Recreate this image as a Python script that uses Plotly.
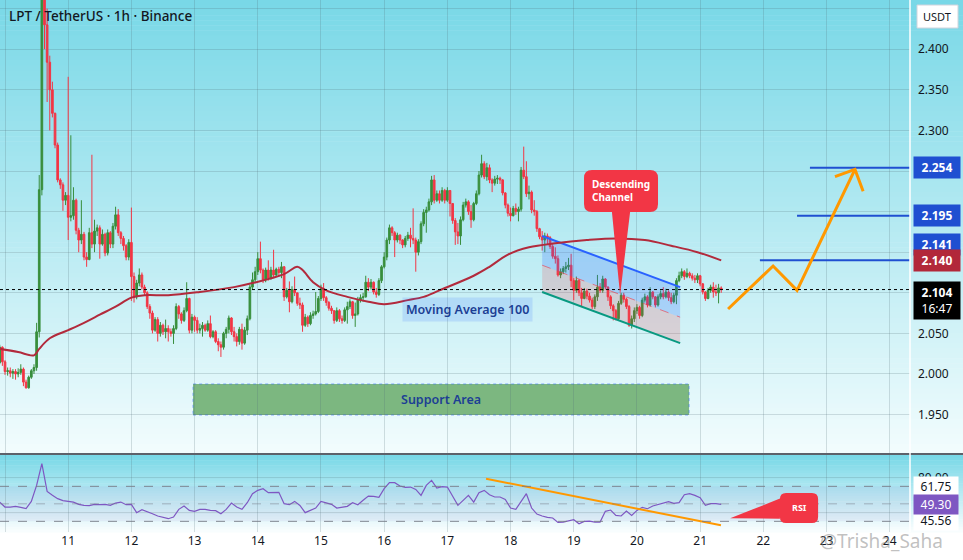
import plotly.graph_objects as go

W, H = 963, 560
PLOT_W, PLOT_H = 910, 532

# hourly candles, hour 0 = day 10 00:00
hours = list(range(-2, 273))
first_open = 2.014
closes = [
    2.033, 2.015, 2.003, 2.004, 2.001, 2.003, 2.000, 2.002, 2.006, 1.990,
    1.983, 1.996, 2.004, 2.008, 2.052, 2.227, 2.480, 2.430, 2.384, 2.350,
    2.321, 2.282, 2.239, 2.233, 2.214, 2.220, 2.193, 2.195, 2.214, 2.177,
    2.165, 2.172, 2.144, 2.141, 2.174, 2.160, 2.176, 2.180, 2.160, 2.172,
    2.149, 2.174, 2.160, 2.182, 2.196, 2.174, 2.167, 2.158, 2.144, 2.162,
    2.120, 2.095, 2.112, 2.122, 2.107, 2.100, 2.083, 2.075, 2.054, 2.067,
    2.050, 2.060, 2.052, 2.056, 2.052, 2.050, 2.056, 2.083, 2.074, 2.066,
    2.078, 2.093, 2.054, 2.070, 2.066, 2.054, 2.056, 2.060, 2.054, 2.062,
    2.046, 2.052, 2.040, 2.036, 2.033, 2.050, 2.055, 2.069, 2.052, 2.046,
    2.040, 2.055, 2.038, 2.054, 2.068, 2.107, 2.116, 2.126, 2.142, 2.128,
    2.116, 2.128, 2.118, 2.128, 2.122, 2.129, 2.125, 2.132, 2.095, 2.103,
    2.089, 2.104, 2.100, 2.087, 2.085, 2.060, 2.070, 2.062, 2.072, 2.074,
    2.077, 2.093, 2.105, 2.094, 2.088, 2.081, 2.078, 2.066, 2.078, 2.068,
    2.066, 2.079, 2.083, 2.089, 2.072, 2.074, 2.091, 2.094, 2.095, 2.113,
    2.107, 2.113, 2.101, 2.098, 2.115, 2.132, 2.144, 2.165, 2.180, 2.174,
    2.165, 2.171, 2.165, 2.159, 2.167, 2.171, 2.167, 2.165, 2.150, 2.163,
    2.185, 2.199, 2.202, 2.212, 2.239, 2.214, 2.222, 2.214, 2.226, 2.214,
    2.226, 2.210, 2.189, 2.175, 2.170, 2.190, 2.208, 2.212, 2.200, 2.190,
    2.210, 2.222, 2.245, 2.259, 2.243, 2.254, 2.239, 2.235, 2.240, 2.241,
    2.239, 2.223, 2.208, 2.198, 2.195, 2.204, 2.200, 2.203, 2.251, 2.243,
    2.222, 2.224, 2.202, 2.200, 2.179, 2.169, 2.165, 2.170, 2.168, 2.157,
    2.145, 2.142, 2.122, 2.126, 2.130, 2.132, 2.134, 2.115, 2.103, 2.115,
    2.100, 2.093, 2.102, 2.096, 2.091, 2.083, 2.095, 2.107, 2.103, 2.117,
    2.107, 2.095, 2.084, 2.078, 2.068, 2.087, 2.097, 2.092, 2.083, 2.060,
    2.068, 2.078, 2.082, 2.072, 2.091, 2.095, 2.085, 2.101, 2.095, 2.085,
    2.095, 2.099, 2.095, 2.101, 2.094, 2.089, 2.097, 2.115, 2.121, 2.126,
    2.120, 2.124, 2.121, 2.118, 2.116, 2.121, 2.111, 2.101, 2.093, 2.103,
    2.107, 2.101, 2.100, 2.106, 2.104,
]
highs = [
    2.036, 2.034, 2.017, 2.008, 2.008, 2.006, 2.006, 2.007, 2.012, 2.008,
    1.993, 1.998, 2.006, 2.012, 2.063, 2.245, 2.560, 2.520, 2.450, 2.392,
    2.360, 2.322, 2.285, 2.241, 2.236, 2.224, 2.366, 2.294, 2.230, 2.216,
    2.180, 2.214, 2.175, 2.150, 2.180, 2.270, 2.190, 2.184, 2.183, 2.178,
    2.174, 2.178, 2.176, 2.186, 2.206, 2.203, 2.176, 2.170, 2.160, 2.166,
    2.205, 2.125, 2.116, 2.130, 2.125, 2.110, 2.102, 2.086, 2.078, 2.070,
    2.070, 2.064, 2.062, 2.067, 2.060, 2.056, 2.060, 2.087, 2.085, 2.076,
    2.082, 2.113, 2.094, 2.074, 2.072, 2.070, 2.062, 2.064, 2.062, 2.066,
    2.072, 2.054, 2.054, 2.044, 2.040, 2.052, 2.058, 2.072, 2.070, 2.058,
    2.050, 2.058, 2.062, 2.058, 2.072, 2.110, 2.125, 2.132, 2.150, 2.163,
    2.130, 2.131, 2.140, 2.132, 2.153, 2.131, 2.132, 2.138, 2.133, 2.106,
    2.114, 2.108, 2.120, 2.100, 2.094, 2.088, 2.074, 2.072, 2.076, 2.078,
    2.101, 2.096, 2.110, 2.112, 2.096, 2.090, 2.084, 2.078, 2.082, 2.080,
    2.072, 2.082, 2.089, 2.092, 2.090, 2.088, 2.095, 2.098, 2.100, 2.121,
    2.118, 2.117, 2.114, 2.106, 2.118, 2.134, 2.150, 2.168, 2.184, 2.182,
    2.176, 2.174, 2.172, 2.166, 2.170, 2.175, 2.180, 2.204, 2.168, 2.166,
    2.188, 2.203, 2.206, 2.216, 2.244, 2.245, 2.226, 2.226, 2.230, 2.228,
    2.230, 2.226, 2.210, 2.192, 2.186, 2.194, 2.212, 2.216, 2.214, 2.208,
    2.212, 2.226, 2.250, 2.270, 2.262, 2.260, 2.258, 2.241, 2.244, 2.245,
    2.243, 2.240, 2.224, 2.210, 2.205, 2.207, 2.210, 2.206, 2.255, 2.280,
    2.262, 2.232, 2.226, 2.214, 2.202, 2.180, 2.176, 2.174, 2.173, 2.170,
    2.160, 2.156, 2.146, 2.130, 2.133, 2.138, 2.143, 2.148, 2.118, 2.120,
    2.117, 2.106, 2.106, 2.105, 2.100, 2.094, 2.098, 2.122, 2.112, 2.121,
    2.118, 2.108, 2.097, 2.086, 2.080, 2.090, 2.100, 2.100, 2.094, 2.085,
    2.072, 2.082, 2.086, 2.084, 2.094, 2.099, 2.097, 2.107, 2.102, 2.096,
    2.098, 2.103, 2.107, 2.105, 2.103, 2.100, 2.100, 2.118, 2.126, 2.130,
    2.128, 2.130, 2.126, 2.124, 2.122, 2.124, 2.122, 2.112, 2.102, 2.106,
    2.110, 2.113, 2.110, 2.111, 2.108,
]
lows = [
    2.012, 2.010, 1.999, 1.998, 1.996, 1.994, 1.993, 1.996, 1.999, 1.985,
    1.982, 1.982, 1.994, 2.000, 2.004, 2.045, 2.220, 2.400, 2.335, 2.300,
    2.316, 2.278, 2.236, 2.228, 2.201, 2.208, 2.165, 2.188, 2.190, 2.172,
    2.150, 2.160, 2.140, 2.132, 2.140, 2.155, 2.150, 2.170, 2.142, 2.158,
    2.145, 2.146, 2.155, 2.155, 2.178, 2.170, 2.160, 2.152, 2.140, 2.140,
    2.090, 2.088, 2.092, 2.108, 2.104, 2.096, 2.080, 2.068, 2.050, 2.052,
    2.040, 2.046, 2.048, 2.044, 2.040, 2.046, 2.037, 2.054, 2.068, 2.062,
    2.064, 2.076, 2.050, 2.050, 2.052, 2.050, 2.050, 2.046, 2.052, 2.052,
    2.044, 2.044, 2.038, 2.028, 2.021, 2.030, 2.044, 2.050, 2.048, 2.040,
    2.034, 2.036, 2.030, 2.036, 2.048, 2.066, 2.104, 2.112, 2.122, 2.124,
    2.112, 2.113, 2.115, 2.116, 2.118, 2.120, 2.120, 2.118, 2.090, 2.093,
    2.076, 2.087, 2.096, 2.084, 2.080, 2.052, 2.058, 2.058, 2.060, 2.068,
    2.072, 2.075, 2.090, 2.090, 2.084, 2.078, 2.074, 2.062, 2.064, 2.064,
    2.062, 2.064, 2.062, 2.080, 2.068, 2.058, 2.072, 2.088, 2.089, 2.094,
    2.102, 2.104, 2.098, 2.094, 2.096, 2.112, 2.130, 2.140, 2.160, 2.170,
    2.144, 2.162, 2.160, 2.155, 2.156, 2.164, 2.156, 2.160, 2.126, 2.146,
    2.160, 2.182, 2.174, 2.200, 2.208, 2.210, 2.212, 2.210, 2.212, 2.210,
    2.212, 2.194, 2.185, 2.159, 2.160, 2.159, 2.188, 2.205, 2.196, 2.180,
    2.188, 2.208, 2.220, 2.242, 2.240, 2.238, 2.235, 2.224, 2.232, 2.234,
    2.234, 2.220, 2.204, 2.194, 2.188, 2.194, 2.196, 2.188, 2.200, 2.240,
    2.218, 2.215, 2.198, 2.195, 2.175, 2.166, 2.152, 2.150, 2.160, 2.154,
    2.142, 2.136, 2.120, 2.118, 2.123, 2.125, 2.128, 2.107, 2.091, 2.100,
    2.096, 2.083, 2.092, 2.092, 2.088, 2.080, 2.080, 2.090, 2.100, 2.100,
    2.104, 2.090, 2.080, 2.066, 2.066, 2.066, 2.085, 2.088, 2.080, 2.058,
    2.056, 2.064, 2.074, 2.068, 2.070, 2.088, 2.082, 2.083, 2.092, 2.082,
    2.083, 2.092, 2.092, 2.093, 2.090, 2.086, 2.087, 2.086, 2.113, 2.118,
    2.116, 2.118, 2.118, 2.115, 2.112, 2.112, 2.108, 2.098, 2.090, 2.092,
    2.100, 2.094, 2.096, 2.087, 2.100,
]
opens = [first_open] + closes[:-1]

# moving average 100, read at points along the curve
ma_hours = [-2, 5, 11, 13, 17, 24, 30, 36, 42, 48, 53, 62, 74, 87, 94, 106,
            111, 113, 117, 122, 130, 138, 144, 153, 159, 165, 178, 184, 191,
            199, 209, 221, 232, 243, 253, 263, 272]
ma_values = [2.031, 2.027, 2.023, 2.031, 2.044, 2.054, 2.063, 2.073, 2.083,
             2.094, 2.097, 2.097, 2.101, 2.107, 2.112, 2.123, 2.132, 2.128,
             2.113, 2.103, 2.095, 2.089, 2.086, 2.091, 2.095, 2.103, 2.121,
             2.132, 2.147, 2.156, 2.161, 2.165, 2.167, 2.165, 2.158, 2.150,
             2.140]

# RSI every 2 hours
rsi_hours = list(range(-2, 273, 2))
rsi_values = [
    52, 46.3, 46.3, 47, 46, 44.5, 52.8, 71, 96, 64.2,
    59.7, 55.9, 53.6, 52.8, 52, 49.4, 48.2, 47.9, 49.4, 49,
    49.4, 48.2, 50.9, 52, 49, 49.4, 39.9, 43.3, 41.4, 38.7,
    36.1, 34.5, 33, 34.9, 43.7, 47.5, 42.5, 41.4, 43.7, 43.7,
    42.5, 42.2, 38.7, 43.7, 50.9, 46.3, 43.7, 51.3, 61.6, 65.4,
    67.3, 62.7, 62.7, 63.1, 50.2, 49, 52.8, 48.2, 39.9, 42.2,
    45.2, 52.8, 51.3, 49.4, 45.2, 46.3, 47.1, 51.3, 49, 54,
    58.9, 58.5, 57.4, 67.3, 74.2, 74.2, 70.3, 68.8, 69.2, 66.5,
    59.7, 71.1, 76.8, 68.1, 69.6, 69.2, 58.9, 48.2, 54, 59.7,
    52, 62.7, 65.4, 60.4, 57.8, 57.8, 55.1, 45.2, 43.7, 52,
    61.6, 45.2, 38.3, 36.1, 34.5, 33.8, 28.8, 29.2, 30.7, 31.9,
    27.3, 30, 30.3, 29.2, 29.2, 41.4, 42.9, 36.8, 36.1, 41.8,
    36.8, 42.5, 46, 44.4, 47.5, 49.4, 50.9, 52.4, 50.5, 51.3,
    60.4, 61.6, 59.7, 57, 48.2, 50.2, 50.2, 49.3,
]

day_ticks = list(range(0, 337, 24))
day_labels = [str(d) for d in range(10, 25)]
price_ticks = [1.95, 2.00, 2.05, 2.10, 2.15, 2.20, 2.25, 2.30, 2.35, 2.40, 2.45]

# drawings
channel_hours = [204, 256.4]
channel_upper = [2.170, 2.107]
channel_mid = [2.134, 2.070]
channel_lower = [2.101, 2.038]
support_hours = [71.4, 259.8]
support_prices = [1.9495, 1.9877]
target_levels = [2.254, 2.195, 2.140]
target_starts = [305.7, 300.8, 286.7]
path_hours = [274.6, 291.7, 300.8, 322.8]
path_prices = [2.080, 2.133, 2.103, 2.252]
arrow_hours = [315.2, 322.8, 325.9]
arrow_prices = [2.243, 2.252, 2.225]
rsi_trend_hours = [182.7, 271.9]
rsi_trend_values = [78.7, 25.4]
last_price = 2.104
last_rsi = 49.30

X_RANGE = [-1.9, 343.7]
Y_RANGE = [1.9027, 2.4606]
RSI_RANGE = [17.8, 105.8]
GREEN = "#388e3c"
RED = "#f23645"
BLUE = "#1f4fd1"
ORANGE = "#ff9800"
FONT = "Noto Sans"
TXT = "#131722"
NAVY = "#1c3f94"


def gradient(top_px, bot_px, c_top, c_bot, n):
    out = []
    step = (bot_px - top_px) / n
    for i in range(n):
        t = i / (n - 1)
        col = tuple(round(a + (b - a) * t) for a, b in zip(c_top, c_bot))
        y0 = top_px + i * step
        out.append(dict(type="rect", xref="paper", yref="paper", layer="below",
                        x0=0, x1=W / PLOT_W,
                        y0=1 - (y0 + step + 0.6) / PLOT_H, y1=1 - y0 / PLOT_H,
                        fillcolor="rgb(%d,%d,%d)" % col, line_width=0))
    return out


def balloon(l, r, t, b, rx, ry, pointer):
    s = f"M {l+rx},{t} L {r-rx},{t} Q {r},{t} {r},{t-ry} L {r},{b+ry} Q {r},{b} {r-rx},{b} "
    if pointer[0] == "bottom":
        _, b1, b2, tx, ty = pointer
        s += f"L {b2},{b} L {tx},{ty} L {b1},{b} L {l+rx},{b} Q {l},{b} {l},{b+ry} L {l},{t-ry} "
    else:
        _, y1, y2, tx, ty = pointer
        s += f"L {l+rx},{b} Q {l},{b} {l},{b+ry} L {l},{y2} L {tx},{ty} L {l},{y1} L {l},{t-ry} "
    s += f"Q {l},{t} {l+rx},{t} Z"
    return s


fig = go.Figure()

# channel fills
fig.add_trace(go.Scatter(
    x=channel_hours + channel_hours[::-1], y=channel_upper + channel_mid[::-1],
    fill="toself", fillcolor="rgba(41,98,255,0.22)", line_width=0, mode="lines"))
fig.add_trace(go.Scatter(
    x=channel_hours + channel_hours[::-1], y=channel_mid + channel_lower[::-1],
    fill="toself", fillcolor="rgba(242,54,69,0.18)", line_width=0, mode="lines"))
fig.add_trace(go.Scatter(x=channel_hours, y=channel_mid, mode="lines",
                         line=dict(color="rgba(242,54,69,0.6)", width=1, dash="dash")))
fig.add_trace(go.Scatter(x=channel_hours, y=channel_upper, mode="lines",
                         line=dict(color="#2962ff", width=2)))
fig.add_trace(go.Scatter(x=channel_hours, y=channel_lower, mode="lines",
                         line=dict(color="#089981", width=2)))

fig.add_trace(go.Candlestick(
    x=hours, open=opens, high=highs, low=lows, close=closes,
    increasing=dict(line=dict(color=GREEN, width=1), fillcolor=GREEN),
    decreasing=dict(line=dict(color=RED, width=1), fillcolor=RED),
    whiskerwidth=0))

fig.add_trace(go.Scatter(x=ma_hours, y=ma_values, mode="lines", line_shape="spline",
                         line=dict(color="#b22a3c", width=2)))

# target levels
for lvl, start in zip(target_levels, target_starts):
    fig.add_trace(go.Scatter(x=[start, X_RANGE[1] + 2], y=[lvl, lvl], mode="lines",
                             line=dict(color=BLUE, width=2)))

fig.add_trace(go.Scatter(x=path_hours, y=path_prices, mode="lines",
                         line=dict(color=ORANGE, width=3)))
fig.add_trace(go.Scatter(x=arrow_hours, y=arrow_prices, mode="lines",
                         line=dict(color=ORANGE, width=3)))

# RSI pane
fig.add_trace(go.Scatter(x=rsi_hours, y=rsi_values, mode="lines", xaxis="x2", yaxis="y2",
                         line=dict(color="#7e57c2", width=1.2)))
fig.add_trace(go.Scatter(x=rsi_trend_hours, y=rsi_trend_values, mode="lines",
                         xaxis="x2", yaxis="y2", line=dict(color=ORANGE, width=2)))

shapes = []
shapes += gradient(0, 454, (121, 216, 231), (242, 252, 253), 90)
shapes += gradient(455, 532, (121, 216, 231), (248, 253, 254), 30)
shapes.append(dict(type="rect", xref="x", yref="y", layer="below",
                   x0=support_hours[0], x1=support_hours[1],
                   y0=support_prices[0], y1=support_prices[1],
                   fillcolor="rgb(124,183,128)",
                   line=dict(color="rgba(41,98,255,0.5)", width=1, dash="dot")))
shapes.append(dict(type="rect", xref="paper", yref="y2", layer="below",
                   x0=0, x1=1, y0=30, y1=70, fillcolor="rgba(126,87,194,0.08)", line_width=0))
for v in (80, 40):
    shapes.append(dict(type="line", xref="paper", yref="y2", layer="below", x0=0, x1=1,
                       y0=v, y1=v, line=dict(color="rgba(80,110,120,0.22)", width=1)))
for v, c in ((70, "rgba(120,123,134,0.9)"), (50, "rgba(120,123,134,0.5)"),
             (30, "rgba(120,123,134,0.9)")):
    shapes.append(dict(type="line", xref="paper", yref="y2", x0=0, x1=1, y0=v, y1=v,
                       line=dict(color=c, width=1, dash="dash")))
shapes.append(dict(type="line", xref="paper", yref="y", x0=0, x1=1,
                   y0=last_price, y1=last_price, line=dict(color="black", width=1, dash="dot")))
# pane separator and axis edge
shapes.append(dict(type="line", xref="paper", yref="paper", x0=0, x1=W / PLOT_W,
                   y0=1 - 454 / PLOT_H, y1=1 - 454 / PLOT_H, line=dict(color="#2a2e39", width=1.5)))
shapes.append(dict(type="line", xref="paper", yref="paper", x0=1, x1=1, y0=0, y1=1,
                   line=dict(color="white", width=1.5)))
# callouts
shapes.append(dict(type="path", xref="x", yref="y", fillcolor=RED, line_width=0,
                   path=balloon(219.9, 248.0, 2.2512, 2.1995, 3.0, 0.0099,
                                ("bottom", 230.5, 237.4, 233.6, 2.0973))))
shapes.append(dict(type="path", xref="x2", yref="y2", fillcolor=RED, line_width=0,
                   path=balloon(294.3, 308.8, 62.3, 28.1, 2.3, 6.9,
                                ("left", 56, 33, 275.4, 33.5))))
# USDT box
shapes.append(dict(type="rect", xref="paper", yref="paper", x0=917 / PLOT_W, x1=958 / PLOT_W,
                   y0=1 - 28 / PLOT_H, y1=1 - 5 / PLOT_H, fillcolor="white",
                   line=dict(color="#d1d4dc", width=1)))

ann = []
ann.append(dict(xref="paper", yref="paper", x=7 / PLOT_W, y=1 - 16 / PLOT_H,
                xanchor="left", yanchor="middle", showarrow=False,
                text="LPT / TetherUS · 1h · Binance",
                font=dict(size=13.5, color=TXT, weight=500)))
ann.append(dict(xref="x", yref="y", x=233.9, y=2.2254, showarrow=False,
                text="<b>Descending<br>Channel</b>", align="left",
                font=dict(size=10, color="white")))
ann.append(dict(xref="x2", yref="y2", x=301.6, y=45.5, showarrow=False,
                text="<b>RSI</b>", font=dict(size=9, color="white")))
ann.append(dict(xref="x", yref="y", x=175.8, y=2.079, showarrow=False,
                text="Moving Average 100", bgcolor="rgba(41,98,255,0.15)", borderpad=3,
                font=dict(size=12.5, color=NAVY, weight=600)))
ann.append(dict(xref="x", yref="y", x=sum(support_hours) / 2, y=sum(support_prices) / 2,
                showarrow=False, text="Support Area",
                font=dict(size=12.5, color=NAVY, weight=600)))

# right-axis labels
ann.append(dict(xref="paper", yref="paper", x=937.5 / PLOT_W, y=1 - 16.5 / PLOT_H,
                xanchor="center", yanchor="middle",
                showarrow=False, text="USDT", font=dict(size=11, color=TXT)))
for val, y, col in ((2.254, 2.254, BLUE), (2.195, 2.195, BLUE), (2.141, 2.1598, BLUE),
                    (2.140, 2.140, "#b2283a")):
    ann.append(dict(xref="paper", yref="y", x=1.0035, y=y, xanchor="left",
                    yanchor="middle", showarrow=False, text="<b>%.3f</b>" % val,
                    bgcolor=col, width=42, borderpad=2, font=dict(size=12, color="white")))
ann.append(dict(xref="paper", yref="y", x=1.0035, y=last_price, xanchor="left",
                yanchor="top", yshift=9, showarrow=False,
                text="<b>%.3f</b><br>16:47" % last_price, bgcolor="black", width=42,
                borderpad=2, font=dict(size=12, color="white")))
for val, y, bg, fg in (("61.75", 70, "white", TXT), ("45.56", 31, "white", TXT),
                       ("%.2f" % last_rsi, last_rsi, "#7e57c2", "white")):
    ann.append(dict(xref="paper", yref="y2", x=1.0035, y=y, xanchor="left",
                    yanchor="middle", showarrow=False, text=val, bgcolor=bg, width=42,
                    borderpad=1, font=dict(size=12, color=fg)))
ann.append(dict(xref="paper", yref="paper", x=945 / PLOT_W, y=1 - 541 / PLOT_H,
                xanchor="right", yanchor="middle", showarrow=False, text="@Trisha_Saha",
                font=dict(size=19, color="rgba(140,140,140,0.55)")))

grid = "rgba(80,110,120,0.22)"
fig.update_layout(
    width=W, height=H, margin=dict(l=0, r=W - PLOT_W, t=0, b=H - PLOT_H),
    paper_bgcolor="white", plot_bgcolor="rgba(0,0,0,0)",
    showlegend=False, hovermode=False, boxgap=0.1,
    font=dict(family=FONT, color=TXT, size=12),
    shapes=shapes, annotations=ann,
    xaxis=dict(domain=[0, 1], range=X_RANGE, anchor="y", tickvals=day_ticks,
               showticklabels=False, showgrid=True, gridcolor=grid, zeroline=False,
               rangeslider=dict(visible=False), fixedrange=True),
    xaxis2=dict(domain=[0, 1], range=X_RANGE, anchor="y2", tickvals=day_ticks,
                ticktext=day_labels, showgrid=True, gridcolor=grid, zeroline=False,
                ticks="", tickfont=dict(size=12, color=TXT)),
    yaxis=dict(domain=[1 - 453 / PLOT_H, 1], range=Y_RANGE, side="right", anchor="x",
               tickvals=price_ticks, ticktext=["%.3f" % v for v in price_ticks],
               showgrid=True, gridcolor=grid, zeroline=False, ticks="",
               ticklabelstandoff=7, tickfont=dict(size=12, color=TXT)),
    yaxis2=dict(domain=[0, 1 - 455 / PLOT_H], range=RSI_RANGE, side="right", anchor="x2",
                tickvals=[80], ticktext=["80.00"], showgrid=False, zeroline=False,
                ticks="", ticklabelstandoff=7, tickfont=dict(size=12, color=TXT)),
)

# the page body has a default 8px margin; drop it so the chart fills the window
fig.write_html("out.html", config={"displayModeBar": False},
               post_script="document.body.style.margin='0';"
                           "document.body.style.overflow='hidden';")
